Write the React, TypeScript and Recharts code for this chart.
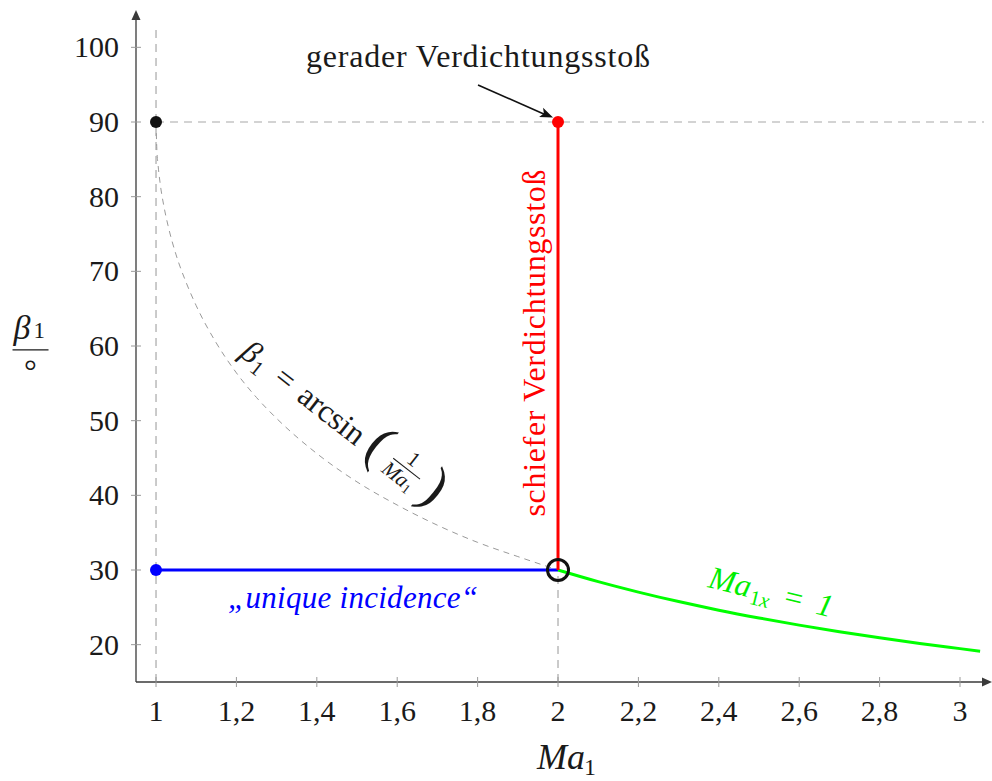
import React from 'react';
import { ComposedChart, Line, XAxis, YAxis, ReferenceLine, ReferenceDot } from 'recharts';

// Ma1 axis ticks and beta1 axis ticks
const xTicks = [1, 1.2, 1.4, 1.6, 1.8, 2, 2.2, 2.4, 2.6, 2.8, 3];
const yTicks = [20, 30, 40, 50, 60, 70, 80, 90, 100];

// dashed curve beta1 = arcsin(1/Ma1) (Ma1 from 1 to 2)
const arcsinMa = [1, 1.002, 1.005, 1.01, 1.02, 1.03, 1.05, 1.075, 1.1, 1.15, 1.2, 1.25, 1.3, 1.4, 1.5, 1.6, 1.7, 1.8, 1.9, 2];
const arcsinBeta = [90, 86.4, 84.3, 81.9, 78.6, 76.1, 72.2, 68.5, 65.4, 60.4, 56.4, 53.1, 50.3, 45.6, 41.8, 38.7, 36.0, 33.7, 31.8, 30];

// green curve Ma1x = 1 (Ma1 from 2 to 3.05)
const greenMa = [2, 2.1, 2.2, 2.3, 2.4, 2.5, 2.6, 2.7, 2.8, 2.9, 3.0, 3.05];
const greenBeta = [30, 28.44, 27.04, 25.77, 24.62, 23.58, 22.62, 21.74, 20.92, 20.16, 19.47, 19.13];

// red vertical: oblique shock, blue horizontal: unique incidence
const redMa = [2, 2];
const redBeta = [30, 90];
const blueMa = [1, 2];
const blueBeta = [30, 30];

const arcsinData = arcsinMa.map((m, i) => ({ ma: m, beta: arcsinBeta[i] }));
const greenData = greenMa.map((m, i) => ({ ma: m, beta: greenBeta[i] }));
const redData = redMa.map((m, i) => ({ ma: m, beta: redBeta[i] }));
const blueData = blueMa.map((m, i) => ({ ma: m, beta: blueBeta[i] }));

const X_MIN = 0.9502;
const X_MAX = 3.0597;
const Y_MIN = 15.0;
const Y_MAX = 103.93;

const FONT = '"Liberation Serif", "Times New Roman", serif';
const TXT = '#1a1a1a';
const GRID = '#a8a8a8';
const AXIS = '#3a3a3a';

const fmt = (v: number) => String(v).replace('.', ',');

const YTick = (props: any) => {
  const { x, y, payload } = props;
  return (
    <g>
      <line x1={x - 5} x2={x + 5} y1={y} y2={y} stroke="#9a9a9a" strokeWidth={1} />
      <text x={x - 17} y={y + 10} textAnchor="end" fontSize={30} fontFamily={FONT} fill={TXT}>
        {fmt(payload.value)}
      </text>
    </g>
  );
};

const XTick = (props: any) => {
  const { x, y, payload } = props;
  return (
    <g>
      <line x1={x} x2={x} y1={y - 5} y2={y + 5} stroke="#9a9a9a" strokeWidth={1} />
      <text x={x} y={y + 39} textAnchor="middle" fontSize={30} fontFamily={FONT} fill={TXT}>
        {fmt(payload.value)}
      </text>
    </g>
  );
};

const ArrowRight = (p: any) => (
  <path d={`M ${p.cx + 8} ${p.cy} L ${p.cx - 2} ${p.cy - 4.5} L ${p.cx - 2} ${p.cy + 4.5} Z`} fill={AXIS} />
);
const ArrowUp = (p: any) => (
  <path d={`M ${p.cx} ${p.cy - 8} L ${p.cx - 4.5} ${p.cy + 2} L ${p.cx + 4.5} ${p.cy + 2} Z`} fill={AXIS} />
);
const ShockArrowHead = (p: any) => (
  <g transform={`translate(${p.cx},${p.cy}) rotate(23.4)`}>
    <path d="M 0 0 L -13 -5 L -10 0 L -13 5 Z" fill="#111" />
  </g>
);
const Dot = (p: any) => <circle cx={p.cx} cy={p.cy} r={p.rad} fill={p.col} />;
const Ring = (p: any) => <circle cx={p.cx} cy={p.cy} r={10.5} fill="none" stroke="#111" strokeWidth={3} />;

const GeraderLabel = (p: any) => (
  <text x={p.cx} y={p.cy} textAnchor="middle" fontSize={32} fontFamily={FONT} fill={TXT}
    textLength={344} lengthAdjust="spacing">
    gerader Verdichtungsstoß
  </text>
);

const SchieferLabel = (p: any) => (
  <text transform={`translate(${p.cx},${p.cy}) rotate(-90)`} x={0} y={0} textAnchor="middle"
    fontSize={32} fontFamily={FONT} fill="#ff0000" textLength={347} lengthAdjust="spacing">
    schiefer Verdichtungsstoß
  </text>
);

const UniqueLabel = (p: any) => (
  <text x={p.cx} y={p.cy} textAnchor="middle" fontSize={31} fontFamily={FONT} fontStyle="italic"
    fill="#0000ff" textLength={250} lengthAdjust="spacing">
    „unique incidence“
  </text>
);

const GreenLabel = (p: any) => (
  <g transform={`translate(${p.cx},${p.cy}) rotate(13.8)`} fontFamily={FONT} fill="#00ee00">
    <text x={-15} y={10} fontSize={32} fontStyle="italic">Ma</text>
    <text x={29} y={16} fontSize={21}>1<tspan fontStyle="italic">x</tspan></text>
    <text x={72} y={10} fontSize={32} textAnchor="middle">=</text>
    <text x={104} y={10} fontSize={32} textAnchor="middle" fontStyle="italic">1</text>
  </g>
);

const ArcsinLabel = (p: any) => (
  <g transform={`translate(${p.cx},${p.cy}) rotate(38)`} fontFamily={FONT} fill={TXT}>
    <text x={-9} y={5} fontSize={32} fontStyle="italic">β</text>
    <text x={8} y={11} fontSize={21}>1</text>
    <text x={42} y={5} fontSize={32} textAnchor="middle">=</text>
    <text x={101} y={5} fontSize={32} textAnchor="middle">arcsin</text>
    <text x={157} y={6} fontSize={56} textAnchor="middle">(</text>
    <text x={193} y={-14} fontSize={21} textAnchor="middle">1</text>
    <line x1={176} x2={210} y1={-9} y2={-9} stroke={TXT} strokeWidth={1} />
    <text x={191} y={9} fontSize={21} textAnchor="middle" fontStyle="italic">
      Ma<tspan fontSize={14} fontStyle="normal" dy={3}>1</tspan>
    </text>
    <text x={227} y={6} fontSize={56} textAnchor="middle">)</text>
  </g>
);

const XLabel = (p: any) => (
  <g fontFamily={FONT} fill={TXT}>
    <text x={p.cx} y={p.cy} fontSize={36} fontStyle="italic">Ma</text>
    <text x={p.cx + 47} y={p.cy + 6} fontSize={24}>1</text>
  </g>
);

const YLabel = (p: any) => (
  <g fontFamily={FONT} fill={TXT}>
    <text x={p.cx - 17} y={p.cy - 11} fontSize={34} fontStyle="italic">β</text>
    <text x={p.cx + 3} y={p.cy - 12} fontSize={23}>1</text>
    <line x1={p.cx - 18} x2={p.cx + 18} y1={p.cy} y2={p.cy} stroke={TXT} strokeWidth={1.3} />
    <text x={p.cx} y={p.cy + 32} fontSize={32} textAnchor="middle">°</text>
  </g>
);

const refDash = { stroke: GRID, strokeWidth: 1.2, strokeDasharray: '8 6' };

export default function App() {
  return (
    <div style={{ position: 'absolute', left: 0, top: 0, width: 992, height: 781, background: '#fff' }}>
      <ComposedChart width={992} height={781} margin={{ top: 18, right: 8, bottom: 0, left: 0 }}>
        <XAxis
          type="number"
          dataKey="ma"
          domain={[X_MIN, X_MAX]}
          ticks={xTicks}
          interval={0}
          allowDataOverflow
          height={99}
          tickSize={0}
          tickMargin={0}
          tickLine={false}
          tick={<XTick />}
          axisLine={{ stroke: AXIS, strokeWidth: 1.3 }}
        />
        <YAxis
          type="number"
          dataKey="beta"
          domain={[Y_MIN, Y_MAX]}
          ticks={yTicks}
          interval={0}
          allowDataOverflow
          width={136}
          tickSize={0}
          tickMargin={0}
          tickLine={false}
          tick={<YTick />}
          axisLine={{ stroke: AXIS, strokeWidth: 1.3 }}
        />

        <ReferenceLine segment={[{ x: 1, y: Y_MIN }, { x: 1, y: 103 }]} {...refDash} ifOverflow="visible" />
        <ReferenceLine segment={[{ x: 1, y: 90 }, { x: X_MAX, y: 90 }]} {...refDash} ifOverflow="visible" />
        <ReferenceLine segment={[{ x: 2, y: Y_MIN }, { x: 2, y: 30 }]} {...refDash} ifOverflow="visible" />

        <Line data={arcsinData} dataKey="beta" type="monotone" stroke="#9a9a9a" strokeWidth={1}
          strokeDasharray="6 5" dot={false} isAnimationActive={false} />
        <Line data={blueData} dataKey="beta" type="linear" stroke="#0000ff" strokeWidth={3}
          dot={false} isAnimationActive={false} />
        <Line data={greenData} dataKey="beta" type="monotone" stroke="#00ff00" strokeWidth={3}
          dot={false} isAnimationActive={false} />
        <Line data={redData} dataKey="beta" type="linear" stroke="#ff0000" strokeWidth={3}
          dot={false} isAnimationActive={false} />

        <ReferenceLine segment={[{ x: 1.8010, y: 94.96 }, { x: 1.9716, y: 90.9 }]} stroke="#111"
          strokeWidth={1.6} ifOverflow="visible" />
        <ReferenceDot x={1.9876} y={90.6} ifOverflow="visible" shape={<ShockArrowHead />} />

        <ReferenceDot x={1} y={90} ifOverflow="visible" shape={<Dot rad={6} col="#111" />} />
        <ReferenceDot x={2} y={90} ifOverflow="visible" shape={<Dot rad={6} col="#ff0000" />} />
        <ReferenceDot x={1} y={30} ifOverflow="visible" shape={<Dot rad={6} col="#0000ff" />} />
        <ReferenceDot x={2} y={30} ifOverflow="visible" shape={<Ring />} />

        <ReferenceDot x={X_MAX} y={Y_MIN} ifOverflow="visible" shape={<ArrowRight />} />
        <ReferenceDot x={X_MIN} y={Y_MAX} ifOverflow="visible" shape={<ArrowUp />} />

        <ReferenceDot x={1.801} y={97.37} ifOverflow="visible" shape={<GeraderLabel />} />
        <ReferenceDot x={1.9677} y={60.4} ifOverflow="visible" shape={<SchieferLabel />} />
        <ReferenceDot x={1.490} y={24.91} ifOverflow="visible" shape={<UniqueLabel />} />
        <ReferenceDot x={2.4129} y={28.53} ifOverflow="visible" shape={<GreenLabel />} />
        <ReferenceDot x={1.2313} y={58.53} ifOverflow="visible" shape={<ArcsinLabel />} />
        <ReferenceDot x={1.9478} y={3.35} ifOverflow="visible" shape={<XLabel />} />
        <ReferenceDot x={0.6878} y={59.47} ifOverflow="visible" shape={<YLabel />} />
      </ComposedChart>
    </div>
  );
}
